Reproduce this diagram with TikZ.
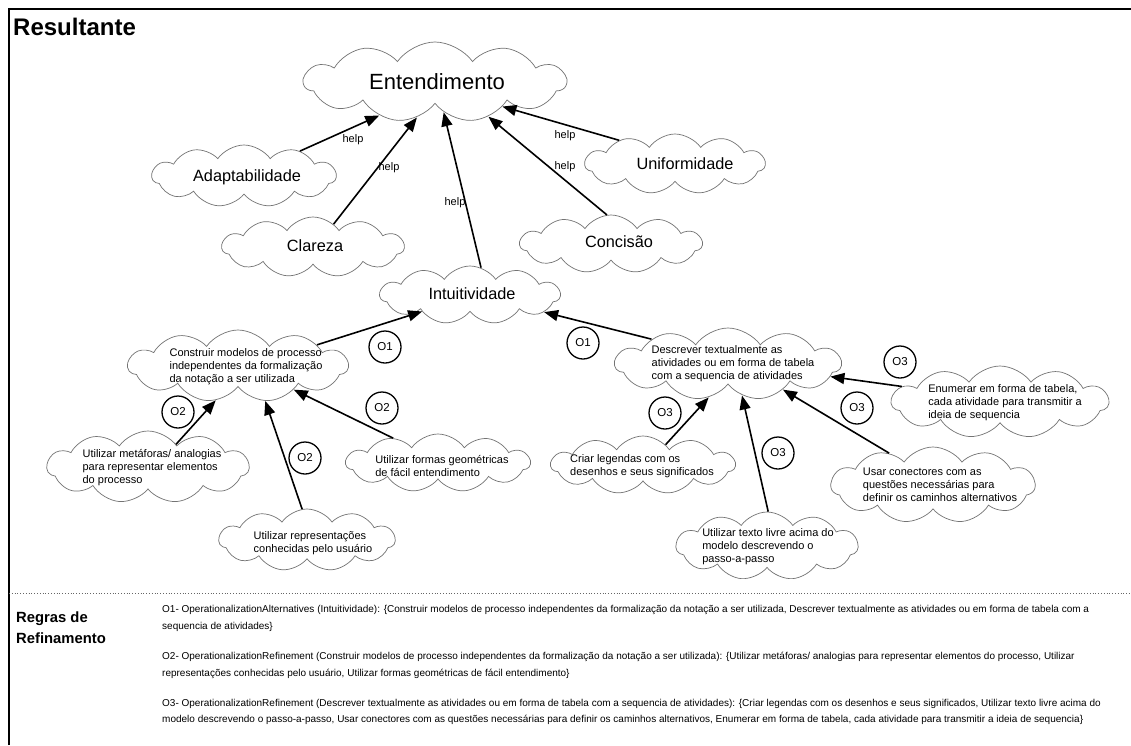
\documentclass[tikz,border=0pt]{standalone}
\usepackage{fontspec}
\setmainfont{Liberation Sans}
\usetikzlibrary{shapes.symbols,arrows.meta}
\begin{document}
\begin{tikzpicture}[x=1pt,y=-1pt,
  cl/.style={cloud, cloud puffs=11, cloud puff arc=110, cloud ignores aspect, draw=black!55, line width=0.7pt, inner sep=0pt},
  bigt/.style={font=\fontsize{22}{26}\selectfont, inner sep=0pt},
  midt/.style={font=\fontsize{16.3}{19}\selectfont, inner sep=0pt},
  smt/.style={font=\fontsize{11}{13}\selectfont, inner sep=0pt, align=left},
  arr/.style={-{Triangle[length=14pt,width=11pt]}, line width=1.6pt},
  helpl/.style={font=\fontsize{11}{13}\selectfont, inner sep=0pt},
  op/.style={circle, draw, line width=1.3pt, minimum size=32pt, inner sep=0pt, font=\fontsize{11.5}{13}\selectfont},
  rule/.style={font=\fontsize{10}{12}\selectfont, inner sep=0pt, anchor=base west},
  head/.style={font=\bfseries\fontsize{14.8}{17}\selectfont, inner sep=0pt, anchor=base west},
]
\useasboundingbox (0,0) rectangle (1131,745);
\fill[white] (0,0) rectangle (1131,745);
% frame
\draw[line width=2pt] (9,745) -- (9,9) -- (1131,9);
\draw[black!60, dotted, line width=0.8pt] (9,593) -- (1131,593);
\node[font=\bfseries\fontsize{24}{28}\selectfont, inner sep=0pt, anchor=base west] (res) at (13,35) {Resultante};

% top clouds
\node[cl, minimum width=262pt, minimum height=80pt] (E) at (435,82) {};
\node[bigt] (Et) at (437,82) {Entendimento};
\node[cl, minimum width=184pt, minimum height=62pt] (A) at (244,176) {};
\node[midt] (At) at (247,177) {Adaptabilidade};
\node[cl, minimum width=182pt, minimum height=60pt] (C) at (313,247) {};
\node[midt] (Ct) at (315,246) {Clareza};
\node[cl, minimum width=180pt, minimum height=58pt] (I) at (470,295) {};
\node[midt] (It) at (472,294) {Intuitividade};
\node[cl, minimum width=182pt, minimum height=58pt] (Co) at (611,244) {};
\node[midt] (Cot) at (619,242) {Concisão};
\node[cl, minimum width=180pt, minimum height=60pt] (U) at (675,164) {};
\node[midt] (Ut) at (685,164) {Uniformidade};

% lower clouds
\node[cl, minimum width=220pt, minimum height=72pt] (P) at (238,366) {};
\node[smt] (Pt) at (246,367) {Construir modelos de processo\\independentes da formalização\\da notação a ser utilizada};
\node[cl, minimum width=226pt, minimum height=72pt] (D) at (728,364) {};
\node[smt] (Dt) at (733,364) {Descrever textualmente as\\atividades ou em forma de tabela\\com a sequencia de atividades};
\node[cl, minimum width=202pt, minimum height=72pt] (M) at (148,467) {};
\node[smt] (Mt) at (152,468) {Utilizar metáforas/ analogias\\para representar elementos\\do processo};
\node[cl, minimum width=176pt, minimum height=62pt] (R) at (307,540) {};
\node[smt] (Rt) at (313,543) {Utilizar representações\\conhecidas pelo usuário};
\node[cl, minimum width=184pt, minimum height=58pt] (F) at (438,463) {};
\node[smt] (Ft) at (442,466) {Utilizar formas geométricas\\de fácil entendimento};
\node[cl, minimum width=184pt, minimum height=58pt] (L) at (643,465) {};
\node[smt] (Lt) at (642,466) {Criar legendas com os\\desenhos e seus significados};
\node[cl, minimum width=182pt, minimum height=68pt] (T) at (767,546) {};
\node[smt] (Tt) at (768,547) {Utilizar texto livre acima do\\modelo descrevendo o\\passo-a-passo};
\node[cl, minimum width=204pt, minimum height=76pt] (S) at (933,485) {};
\node[smt] (St) at (940,485) {Usar conectores com as\\questões necessárias para\\definir os caminhos alternativos};
\node[cl, minimum width=217pt, minimum height=72pt] (N) at (1000,402) {};
\node[smt] (Nt) at (1005,403) {Enumerar em forma de tabela,\\cada atividade para transmitir a\\ideia de sequencia};

% help arrows
\draw[arr] (A.24) -- (E.211);
\draw[arr] (C.48) -- (E.243);
\draw[arr] (I.68) -- (E.286);
\draw[arr] (Co.98) -- (E.327);
\draw[arr] (U.157) -- (E.340);
\node[helpl] (h1) at (353,140) {help};
\node[helpl] (h2) at (389,168) {help};
\node[helpl] (h3) at (455,203) {help};
\node[helpl] (h4) at (565,167) {help};
\node[helpl] (h5) at (565,136) {help};

% operationalization arrows
\draw[arr] (P.15) -- (I.199);
\draw[arr] (D.162) -- (I.347);
\draw[arr] (M.39) -- (P.237);
\draw[arr] (R.99) -- (P.308);
\draw[arr] (F.151) -- (P.337);
\draw[arr] (L.42) -- (D.240);
\draw[arr] (T.88) -- (D.294);
\draw[arr] (S.144) -- (D.335);
\draw[arr] (N.171) -- (D.353);

\node[op] (o1a) at (385,347) {O1};
\node[op] (o1b) at (583,343) {O1};
\node[op] (o2a) at (178,412) {O2};
\node[op] (o2b) at (305,458) {O2};
\node[op] (o2c) at (382,408) {O2};
\node[op] (o3a) at (665,413) {O3};
\node[op] (o3b) at (778,453) {O3};
\node[op] (o3c) at (857,408) {O3};
\node[op] (o3d) at (900,362) {O3};

% rules
\node[head] (rg1) at (16,622) {Regras de};
\node[head] (rg2) at (16,643) {Refinamento};
\node[rule] (r1a) at (162,612) {O1- OperationalizationAlternatives (Intuitividade): \{Construir modelos de processo independentes da formalização da notação a ser utilizada, Descrever textualmente as atividades ou em forma de tabela com a};
\node[rule] (r1b) at (162,629) {sequencia de atividades\}};
\node[rule] (r2a) at (162,659) {O2- OperationalizationRefinement (Construir modelos de processo independentes da formalização da notação a ser utilizada): \{Utilizar metáforas/ analogias para representar elementos do processo, Utilizar};
\node[rule] (r2b) at (162,676) {representações conhecidas pelo usuário, Utilizar formas geométricas de fácil entendimento\}};
\node[rule] (r3a) at (162,706) {O3- OperationalizationRefinement (Descrever textualmente as atividades ou em forma de tabela com a sequencia de atividades): \{Criar legendas com os desenhos e seus significados, Utilizar texto livre acima do};
\node[rule] (r3b) at (162,722) {modelo descrevendo o passo-a-passo, Usar conectores com as questões necessárias para definir os caminhos alternativos, Enumerar em forma de tabela, cada atividade para transmitir a ideia de sequencia\}};
\end{tikzpicture}
\end{document}
